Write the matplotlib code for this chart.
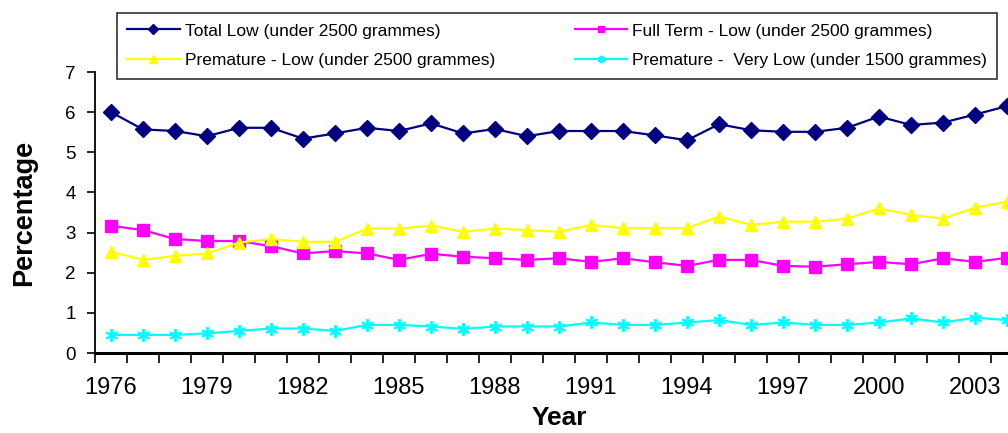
import matplotlib
matplotlib.use("Agg")
import matplotlib.pyplot as plt
from matplotlib.ticker import FixedLocator

# --- data ---
years = list(range(1976, 2005))

total_low = [6.00, 5.57, 5.53, 5.40, 5.61, 5.61, 5.34, 5.47, 5.61, 5.53,
             5.72, 5.47, 5.58, 5.40, 5.53, 5.53, 5.53, 5.42, 5.30, 5.70,
             5.55, 5.51, 5.51, 5.61, 5.89, 5.68, 5.74, 5.94, 6.15]

full_term_low = [3.17, 3.06, 2.84, 2.79, 2.79, 2.66, 2.48, 2.54, 2.48, 2.32,
                 2.47, 2.40, 2.36, 2.32, 2.36, 2.27, 2.36, 2.26, 2.17, 2.32,
                 2.32, 2.17, 2.15, 2.21, 2.27, 2.21, 2.36, 2.27, 2.37]

premature_low = [2.52, 2.32, 2.42, 2.48, 2.75, 2.84, 2.77, 2.77, 3.10, 3.10,
                 3.17, 3.02, 3.10, 3.06, 3.02, 3.19, 3.11, 3.11, 3.11, 3.40,
                 3.19, 3.27, 3.27, 3.35, 3.60, 3.44, 3.35, 3.62, 3.77]

premature_very_low = [0.45, 0.45, 0.45, 0.49, 0.55, 0.61, 0.61, 0.55, 0.70, 0.70,
                      0.66, 0.60, 0.66, 0.66, 0.66, 0.76, 0.70, 0.70, 0.76, 0.82,
                      0.70, 0.76, 0.70, 0.70, 0.76, 0.86, 0.76, 0.88, 0.82]

labels = ["Total Low (under 2500 grammes)",
          "Full Term - Low (under 2500 grammes)",
          "Premature - Low (under 2500 grammes)",
          "Premature -  Very Low (under 1500 grammes)"]

plt.rcParams["font.family"] = ["Liberation Sans", "DejaVu Sans"]

fig = plt.figure(figsize=(10.08, 4.33), dpi=100)
# axes runs a little past the right edge, like the cropped original
ax = fig.add_axes([95 / 1008, 80 / 433, 928 / 1008, 281 / 433])

l1, = ax.plot(years, total_low, color="#000080", lw=1.6, marker="D", ms=8)
l2, = ax.plot(years, full_term_low, color="#FF00FF", lw=1.6, marker="s", ms=8)
l3, = ax.plot(years, premature_low, color="#FFFF00", lw=1.6, marker="^", ms=9)
l4, = ax.plot(years, premature_very_low, color="#00FFFF", lw=1.6, marker=(6, 2, 0),
              ms=9, mew=1.4)

# category-style axis: ticks between years, labels every 3rd year
ax.set_xlim(years[0] - 0.5, years[-1] + 0.5)
ax.xaxis.set_major_locator(FixedLocator(years[::3]))
ax.xaxis.set_minor_locator(FixedLocator([y - 0.5 for y in years] + [years[-1] + 0.5]))
ax.tick_params(axis="x", which="major", length=0, pad=17, labelsize=17)
ax.tick_params(axis="x", which="minor", length=7, width=1.2, direction="out")

ax.set_ylim(0, 7)
ax.set_yticks(range(0, 8))
ax.tick_params(axis="y", length=6, width=1.2, direction="out", labelsize=13.5, pad=8)

for side in ["top", "right"]:
    ax.spines[side].set_visible(False)
ax.spines["left"].set_linewidth(1.3)
ax.spines["bottom"].set_linewidth(2.2)

ax.set_xlabel("Year", fontsize=19, fontweight="bold", labelpad=5)
ax.set_ylabel("Percentage", fontsize=19.5, fontweight="bold", labelpad=20)

# two rows: Total / Full Term on top, Premature ones below
leg = fig.legend([l1, l3, l2, l4], [labels[0], labels[2], labels[1], labels[3]],
                 loc="upper left", bbox_to_anchor=(117 / 1008, 1 - 13 / 433),
                 ncol=2, fontsize=12.5, frameon=True, fancybox=False,
                 edgecolor="black", handlelength=3.0, handletextpad=0.3,
                 columnspacing=4.6, borderpad=0.6, borderaxespad=0,
                 labelspacing=0.85, markerscale=0.6)
leg.get_frame().set_linewidth(1.2)

fig.savefig("out.png", dpi=100)
